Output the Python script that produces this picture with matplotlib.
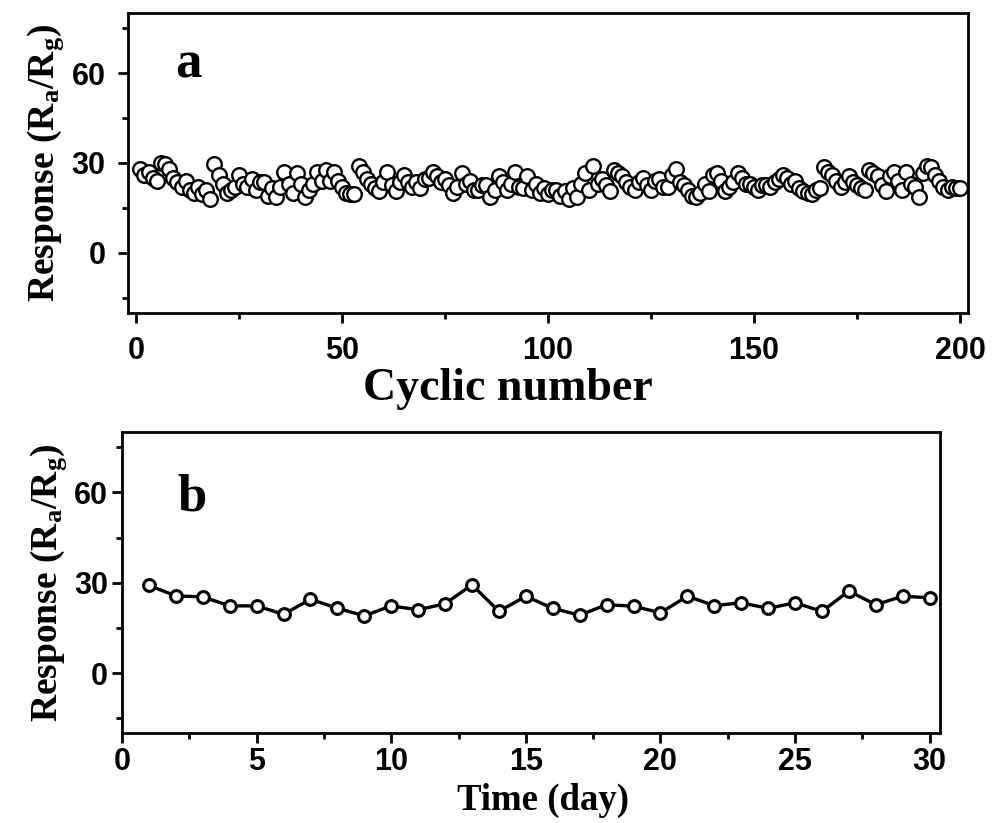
import matplotlib

matplotlib.use("Agg")
import matplotlib.pyplot as plt
from matplotlib.ticker import MultipleLocator
import numpy as np

# panel a: response over 200 cycles
cycles = np.arange(1, 201)
cycle_resp = [
    28, 26, 27, 25, 24, 30, 29.5, 28, 25, 23.5,
    22, 24, 21, 20, 22, 19.5, 21, 18, 29.5, 26,
    23, 20, 21, 22, 26, 23, 22, 24.5, 21, 23.5,
    23.5, 19, 21.5, 18.5, 22, 27, 23, 20, 26.5, 23,
    18.5, 21, 23, 27, 24, 27.5, 24, 27, 24, 22,
    20, 19.5, 19.5, 29, 27, 24.5, 23, 21.5, 20.5, 23.5,
    27, 22.5, 20.5, 23.5, 26, 23.5, 22, 23.5, 21.5, 24.5,
    25, 27, 25.5, 23.5, 24.5, 22.5, 20, 22, 26.5, 23,
    24, 21, 21, 22.5, 22.5, 18.5, 21, 25.5, 23.5, 21,
    23, 27, 22, 21.5, 25.5, 21, 23, 20, 21.5, 19.5,
    21, 21, 19, 20.5, 18, 21.5, 18.5, 23, 26.5, 21,
    29, 23, 24.5, 22.5, 20.5, 27.5, 26.5, 25.5, 23.5, 22,
    21, 23.5, 25, 22.5, 21, 24, 24.5, 22, 22, 26,
    28, 23.5, 22.5, 21, 19, 18.5, 20, 23, 20.5, 26,
    26.5, 24, 20.5, 22, 23.5, 26.5, 25, 23, 23, 22,
    21, 22.5, 22.5, 22, 23.5, 24.5, 26, 25, 23, 24,
    21.5, 20.5, 20, 19.5, 21, 21.5, 28.5, 27, 26, 24,
    22, 23.5, 25.5, 23.5, 22.5, 21.5, 21, 27.5, 26.5, 25.5,
    22.5, 20.5, 25.5, 27, 24, 21, 27, 23, 22, 18.5,
    26.5, 29, 28.5, 26, 24, 22, 21, 22, 21.5, 21.5,
]

# panel b: response over 30 days
days = np.arange(1, 31)
day_resp = [
    29.1, 25.6, 25.3, 22.3, 22.3, 19.5, 24.5, 21.5, 19.0, 22.3,
    21.0, 23.0, 29.3, 20.5, 25.5, 21.5, 19.2, 22.7, 22.2, 20.0,
    25.5, 22.4, 23.3, 21.5, 23.3, 20.5, 27.2, 22.7, 25.5, 25.0,
]

plt.rcParams["mathtext.fontset"] = "custom"
plt.rcParams["mathtext.rm"] = "Liberation Serif:bold"
plt.rcParams["mathtext.it"] = "Liberation Serif:bold"
plt.rcParams["mathtext.bf"] = "Liberation Serif:bold"
plt.rcParams["mathtext.default"] = "rm"

SERIF = "Liberation Serif"
YLABEL_SIZE = 27
TICK_FAMILY = ["Liberation Sans Narrow", "Liberation Sans"]
TICK_SIZE = 22
YLABEL = r"Response (R$_\mathrm{a}$/R$_\mathrm{g}$)"

fig = plt.figure(figsize=(9.92, 8.23), dpi=100)
ax1 = fig.add_axes([0.129, 0.620, 0.847, 0.364])
ax2 = fig.add_axes([0.123, 0.109, 0.825, 0.366])


def style(ax, xpad, ypad):
    for s in ax.spines.values():
        s.set_linewidth(2.0)
    ax.tick_params(which="major", direction="out", length=7, width=2.0)
    ax.tick_params(which="minor", direction="out", length=4.5, width=2.0)
    ax.tick_params(axis="x", which="major", pad=xpad)
    ax.tick_params(axis="y", which="major", pad=ypad)
    ax.yaxis.set_major_locator(MultipleLocator(30))
    ax.yaxis.set_minor_locator(MultipleLocator(15))
    ax.set_ylim(-20, 80)
    for lab in ax.get_xticklabels() + ax.get_yticklabels():
        lab.set_fontfamily(TICK_FAMILY)
        lab.set_fontweight("bold")
        lab.set_fontsize(TICK_SIZE)
    ax.set_ylabel(YLABEL, family=SERIF, weight="bold", size=YLABEL_SIZE, labelpad=4)


# (a) cycling stability
ax1.plot(cycles, cycle_resp, "o", ms=10.5, mfc="white", mec="black", mew=1.7)
ax1.set_xlim(-2, 202)
ax1.xaxis.set_major_locator(MultipleLocator(50))
ax1.xaxis.set_minor_locator(MultipleLocator(25))
style(ax1, xpad=10, ypad=9)
ax1.set_xlabel("Cyclic number", family=SERIF, weight="bold", size=33)
ax1.xaxis.set_label_coords(0.452, -0.185)
ax1.text(0.056, 0.827, "a", transform=ax1.transAxes, family=SERIF,
         weight="bold", fontsize=38, va="center")

# (b) long-term stability
ax2.plot(days, day_resp, "-o", color="black", lw=2.4, ms=8.5, mfc="white",
         mec="black", mew=2.2)
ax2.set_xlim(0, 30.4)
ax2.xaxis.set_major_locator(MultipleLocator(5))
ax2.xaxis.set_minor_locator(MultipleLocator(2.5))
style(ax2, xpad=3, ypad=3)
ax2.set_xlabel("Time (day)", family=SERIF, weight="bold", size=26.5)
ax2.xaxis.set_label_coords(0.515, -0.165)
ax2.text(0.068, 0.784, "b", transform=ax2.transAxes, family=SERIF,
         weight="bold", fontsize=38, va="center")

plt.savefig("out.png", dpi=100)
